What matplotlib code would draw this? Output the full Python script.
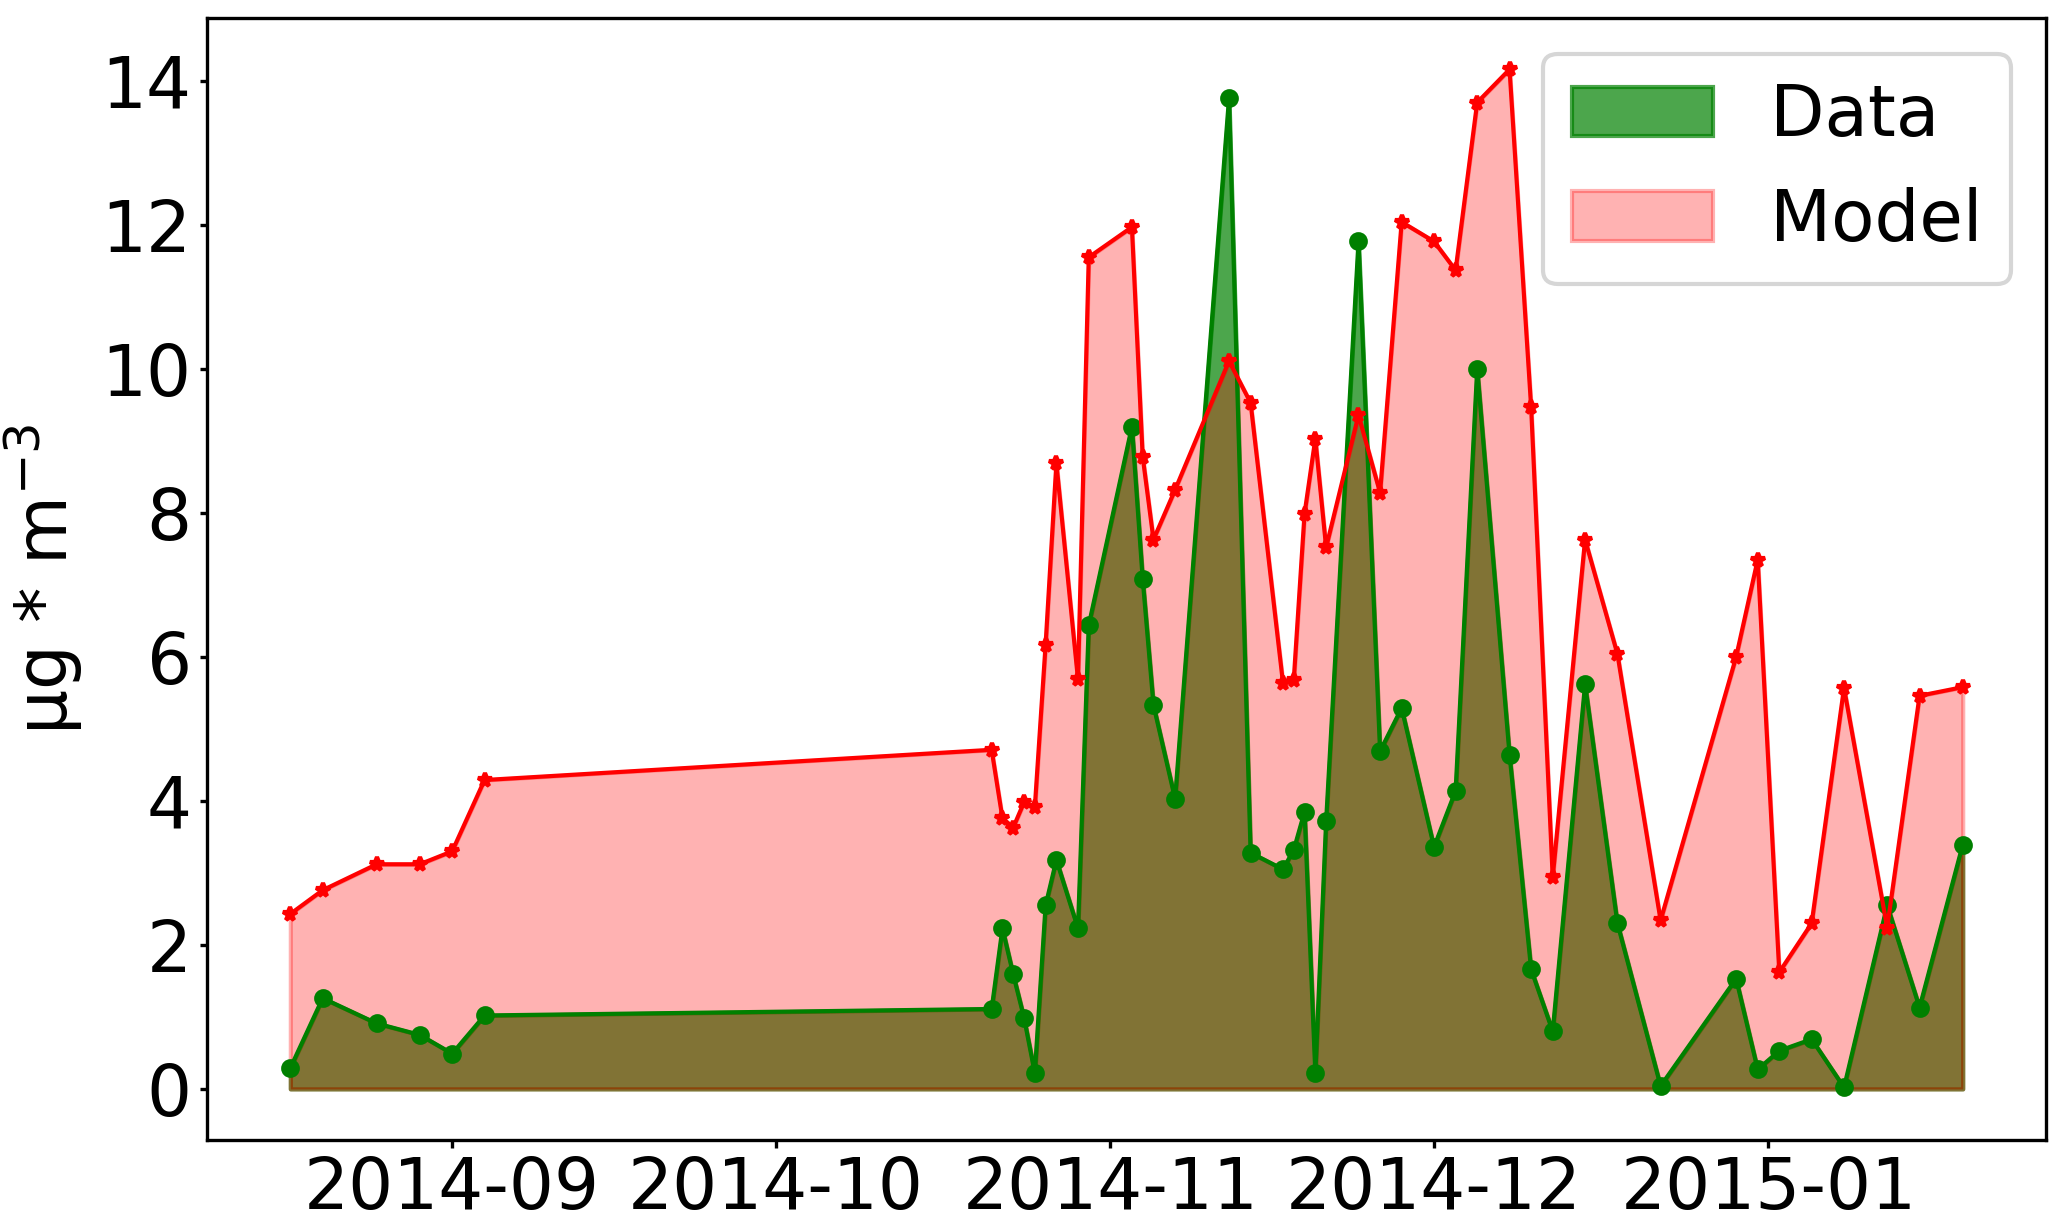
import numpy as np
import pandas as pd
import matplotlib
matplotlib.use("Agg")
import matplotlib.pyplot as plt
import matplotlib.dates as mdates
from matplotlib.ticker import MultipleLocator

fechas = pd.to_datetime([
    "2014-08-17", "2014-08-20", "2014-08-25", "2014-08-29", "2014-09-01", "2014-09-04",
    "2014-10-21", "2014-10-22", "2014-10-23", "2014-10-24", "2014-10-25", "2014-10-26",
    "2014-10-27", "2014-10-29", "2014-10-30", "2014-11-03", "2014-11-04", "2014-11-05",
    "2014-11-07", "2014-11-12", "2014-11-14", "2014-11-17", "2014-11-18", "2014-11-19",
    "2014-11-20", "2014-11-21", "2014-11-24", "2014-11-26", "2014-11-28", "2014-12-01",
    "2014-12-03", "2014-12-05", "2014-12-08", "2014-12-10", "2014-12-12", "2014-12-15",
    "2014-12-18", "2014-12-22", "2014-12-29", "2014-12-31", "2015-01-02", "2015-01-05",
    "2015-01-08", "2015-01-12", "2015-01-15", "2015-01-19",
])

datos = [
    0.29, 1.26, 0.91, 0.75, 0.49, 1.02,
    1.11, 2.23, 1.59, 0.99, 0.22, 2.55,
    3.18, 2.23, 6.44, 9.20, 7.08, 5.33,
    4.03, 13.76, 3.28, 3.05, 3.32, 3.85,
    0.22, 3.72, 11.77, 4.69, 5.29, 3.36,
    4.14, 10.00, 4.64, 1.66, 0.80, 5.62,
    2.30, 0.04, 1.53, 0.27, 0.53, 0.69,
    0.02, 2.55, 1.13, 3.39,
]

modelo = [
    2.43, 2.76, 3.12, 3.12, 3.30, 4.29,
    4.71, 3.76, 3.63, 3.98, 3.91, 6.17,
    8.69, 5.69, 11.55, 11.97, 8.78, 7.63,
    8.32, 10.11, 9.53, 5.64, 5.68, 7.99,
    9.03, 7.52, 9.36, 8.28, 12.04, 11.77,
    11.37, 13.70, 14.16, 9.47, 2.94, 7.63,
    6.04, 2.34, 6.00, 7.35, 1.62, 2.30,
    5.57, 2.24, 5.46, 5.58,
]

fig, ax = plt.subplots(figsize=(6.89, 4.09), dpi=300)
fig.subplots_adjust(left=0.100, right=0.990, top=0.985, bottom=0.071)

# primer les dades (verd) i despres el model (vermell) a sobre
ax.fill_between(fechas, datos, color="green", alpha=0.7, label="Data")
ax.plot(fechas, datos, color="green", marker="o", markersize=3.5, linewidth=1)
ax.fill_between(fechas, modelo, color="red", alpha=0.3, label="Model")
ax.plot(fechas, modelo, color="red", marker="*", markersize=3.3, linewidth=1)

ax.xaxis.set_major_locator(mdates.MonthLocator())
ax.xaxis.set_major_formatter(mdates.DateFormatter("%Y-%m"))
ax.yaxis.set_major_locator(MultipleLocator(2))
ax.tick_params(labelsize=17, length=1.8, pad=1.8)
ax.set_ylabel("µg * m$^{-3}$", fontsize=17)
ax.legend(loc="upper right", fontsize=17)

fig.savefig("out.png", dpi=300)
